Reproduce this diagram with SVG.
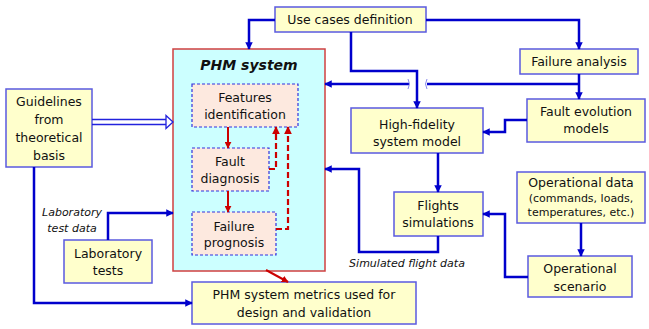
<svg xmlns="http://www.w3.org/2000/svg" width="649" height="329" viewBox="0 0 649 329">
<defs>
<style>
.box{fill:#ffffcc;stroke:#5a5ae0;stroke-width:1.5}
.inner{fill:#fde9df;stroke:#3333dd;stroke-width:1.2;stroke-dasharray:3 2}
.t{font-family:"DejaVu Sans",Verdana,sans-serif;font-size:12.5px;fill:#111;text-anchor:middle}
.ts{font-family:"DejaVu Sans",Verdana,sans-serif;font-size:11px;fill:#111;text-anchor:middle}
.it{font-family:"DejaVu Sans",Verdana,sans-serif;font-size:11px;font-style:italic;fill:#111;text-anchor:middle}
.c{fill:none;stroke:#0000cc;stroke-width:2.5;marker-end:url(#ab)}
.l{fill:none;stroke:#0000cc;stroke-width:2.5}
.r{fill:none;stroke:#cc0000;stroke-width:2;marker-end:url(#ar)}
.rd{fill:none;stroke:#cc0000;stroke-width:2.2;stroke-dasharray:6 3;marker-end:url(#ar)}
</style>
<marker id="ab" viewBox="0 0 10 10" refX="9" refY="5" markerWidth="3" markerHeight="3" orient="auto"><path d="M0,0 L10,5 L0,10 Z" fill="#0000cc"/></marker>
<marker id="ar" viewBox="0 0 10 10" refX="9" refY="5" markerWidth="3.5" markerHeight="3.5" orient="auto"><path d="M0,0 L10,5 L0,10 Z" fill="#cc0000"/></marker>
</defs>

<g id="phm-system">
<rect x="173" y="49" width="152" height="222" fill="#ccffff" stroke="#d04040" stroke-width="1.5"/>
<text x="249" y="70" font-family="DejaVu Sans,Verdana,sans-serif" font-size="14" font-weight="bold" font-style="italic" text-anchor="middle" fill="#111">PHM system</text>
</g>
<g id="features">
<rect class="inner" x="192" y="84" width="106" height="43"/>
<text class="t" x="245" y="102">Features</text>
<text class="t" x="245" y="119">identification</text>
</g>
<g id="fault-diagnosis">
<rect class="inner" x="192" y="148" width="77" height="43"/>
<text class="t" x="230" y="166">Fault</text>
<text class="t" x="230" y="183">diagnosis</text>
</g>
<g id="failure-prognosis">
<rect class="inner" x="192" y="212" width="84" height="43"/>
<text class="t" x="234" y="231">Failure</text>
<text class="t" x="234" y="247">prognosis</text>
</g>

<g id="guidelines">
<rect class="box" x="6" y="89" width="86" height="78"/>
<text class="t" x="49" y="106">Guidelines</text>
<text class="t" x="49" y="124">from</text>
<text class="t" x="49" y="142">theoretical</text>
<text class="t" x="49" y="160">basis</text>
</g>
<g id="use-cases">
<rect class="box" x="275" y="7" width="151" height="25"/>
<text class="t" x="350" y="24">Use cases definition</text>
</g>
<g id="failure-analysis">
<rect class="box" x="520" y="49" width="118" height="25"/>
<text class="t" x="579" y="66">Failure analysis</text>
</g>
<g id="fault-evolution">
<rect class="box" x="527" y="99" width="118" height="43"/>
<text class="t" x="586" y="116">Fault evolution</text>
<text class="t" x="586" y="133">models</text>
</g>
<g id="high-fidelity">
<rect class="box" x="351" y="108" width="132" height="45"/>
<text class="t" x="417" y="129">High-fidelity</text>
<text class="t" x="417" y="146">system model</text>
</g>
<g id="flights">
<rect class="box" x="394" y="192" width="89" height="44"/>
<text class="t" x="438" y="210">Flights</text>
<text class="t" x="438" y="227">simulations</text>
</g>
<g id="operational-data">
<rect class="box" x="517" y="172" width="128" height="51"/>
<text class="t" x="581" y="187">Operational data</text>
<text class="ts" x="581" y="202">(commands, loads,</text>
<text class="ts" x="581" y="216">temperatures, etc.)</text>
</g>
<g id="operational-scenario">
<rect class="box" x="528" y="256" width="104" height="41"/>
<text class="t" x="580" y="273">Operational</text>
<text class="t" x="580" y="291">scenario</text>
</g>
<g id="lab-tests">
<rect class="box" x="64" y="240" width="88" height="43"/>
<text class="t" x="108" y="258">Laboratory</text>
<text class="t" x="108" y="275">tests</text>
</g>
<g id="metrics">
<rect class="box" x="192" y="282" width="224" height="42"/>
<text class="t" x="304" y="299">PHM system metrics used for</text>
<text class="t" x="304" y="317">design and validation</text>
</g>

<g id="connectors">
<path class="c" d="M275,20 H249 V49"/>
<path class="c" d="M426,20 H579 V49"/>
<path class="c" d="M351,32 V71 H417 V108"/>
<path class="c" d="M579,74 V99"/>
<path class="l" d="M579,84 H427"/>
<path class="c" d="M409,84 H325"/>
<path d="M408,79 Q411,84 408,89 M427,79 Q424,84 427,89" fill="none" stroke="#8888ee" stroke-width="1"/>
<path class="c" d="M527,120 H505 V132 H483"/>
<path class="c" d="M438,153 V192"/>
<path class="c" d="M438,236 V252 H359 V169 H325"/>
<path class="c" d="M581,223 V256"/>
<path class="c" d="M528,277 H505 V214 H483"/>
<path class="c" d="M108,240 V213 H173"/>
<path class="c" d="M34,167 V303 H192"/>
<path d="M92,119.5 H167 M92,124.5 H167" stroke="#2222dd" stroke-width="1.3" fill="none"/>
<path d="M166,115.5 L173,122 L166,128.5 Z" fill="#fff" stroke="#2222dd" stroke-width="1.3"/>
<path class="r" d="M228,127 V148"/>
<path class="r" d="M228,191 V212"/>
<path class="rd" d="M269,169 H276 V127"/>
<path class="rd" d="M276,229 H288 V127"/>
<path class="r" d="M266,270 L288,282"/>
<text class="it" x="72" y="216">Laboratory</text>
<text class="it" x="72" y="232">test data</text>
<text class="it" x="407" y="267">Simulated flight data</text>
</g>
</svg>
